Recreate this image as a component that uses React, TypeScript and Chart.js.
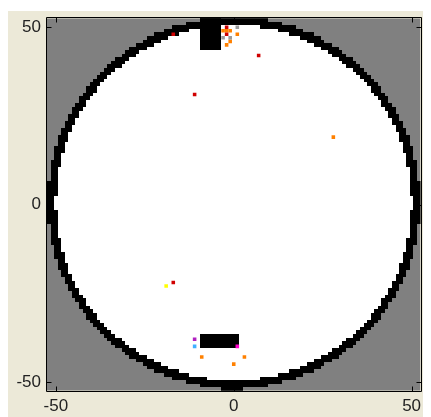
import React, { useEffect, useRef } from "react";
import { Chart, registerables } from "chart.js";

Chart.register(...registerables);

// ---- data ----
const axisMin = -52.5;
const axisMax = 52.5;
const xTickValues = [-50, 0, 50];
const yTickValues = [-50, 0, 50];

const circleCenter = { x: 0, y: 0.5 };
const circleOuterRadius = 52.4;
const circleInnerRadius = 50.05;

const blackBlocks = [
  { x0: -9.5, x1: -3.5, y0: 43.5, y1: 52.5 },
  { x0: -9.5, x1: 1.5, y0: -40.5, y1: -36.5 },
  { x0: -3.5, x1: 2.5, y0: -52.5, y1: -50.5 },
];

const redCells = [
  { x: -2, y: 50 },
  { x: -2, y: 48 },
  { x: -17, y: 48 },
  { x: 7, y: 42 },
  { x: -11, y: 31 },
  { x: -17, y: -22 },
];
const orangeCells = [
  { x: -3, y: 49 },
  { x: -2, y: 49 },
  { x: -1, y: 49 },
  { x: 1, y: 48 },
  { x: -1, y: 46 },
  { x: -2, y: 45 },
  { x: 28, y: 19 },
  { x: -9, y: -43 },
  { x: 3, y: -43 },
  { x: 0, y: -45 },
];
const grayCells = [
  { x: 1, y: 50 },
  { x: -3, y: 47 },
  { x: -1, y: 47 },
];
const yellowCells = [{ x: -19, y: -23 }];
const purpleCells = [{ x: -11, y: -38 }];
const blueCells = [{ x: -11, y: -40 }];
const magentaCells = [{ x: 1, y: -40 }];

const BG = "#ECE9D8";

const fieldPlugin = {
  id: "field",
  beforeDatasetsDraw(chart: any) {
    const { ctx, chartArea, scales } = chart;
    const xs = scales.x;
    const ys = scales.y;
    ctx.save();
    ctx.beginPath();
    ctx.rect(chartArea.left, chartArea.top, chartArea.right - chartArea.left, chartArea.bottom - chartArea.top);
    ctx.clip();
    ctx.fillStyle = "#808080";
    ctx.fillRect(chartArea.left, chartArea.top, chartArea.right - chartArea.left, chartArea.bottom - chartArea.top);
    const lo = Math.ceil(axisMin);
    const hi = Math.floor(axisMax);
    for (let cx = lo; cx <= hi; cx++) {
      for (let cy = lo; cy <= hi; cy++) {
        const d = Math.hypot(cx - circleCenter.x, cy - circleCenter.y);
        if (d > circleOuterRadius) continue;
        ctx.fillStyle = d > circleInnerRadius ? "#000000" : "#ffffff";
        const l = Math.round(xs.getPixelForValue(cx - 0.5));
        const r = Math.round(xs.getPixelForValue(cx + 0.5));
        const t = Math.round(ys.getPixelForValue(cy + 0.5));
        const b = Math.round(ys.getPixelForValue(cy - 0.5));
        ctx.fillRect(l, t, r - l, b - t);
      }
    }
    ctx.fillStyle = "#000000";
    for (const blk of blackBlocks) {
      const l = Math.round(xs.getPixelForValue(blk.x0));
      const r = Math.round(xs.getPixelForValue(blk.x1));
      const t = Math.round(ys.getPixelForValue(blk.y1));
      const b = Math.round(ys.getPixelForValue(blk.y0));
      ctx.fillRect(l, t, r - l, b - t);
    }
    ctx.restore();
  },
  afterDraw(chart: any) {
    const { ctx, chartArea, scales } = chart;
    const xs = scales.x;
    const ys = scales.y;
    const L = Math.round(chartArea.left) - 0.5;
    const R = Math.round(chartArea.right) + 0.5;
    const T = Math.round(chartArea.top) - 0.5;
    const B = Math.round(chartArea.bottom) + 0.5;
    const tl = 5;
    ctx.save();
    ctx.strokeStyle = "#000000";
    ctx.lineWidth = 1;
    ctx.beginPath();
    ctx.rect(L, T, R - L, B - T);
    for (const v of xTickValues) {
      const px = Math.round(xs.getPixelForValue(v)) + 0.5;
      ctx.moveTo(px, B);
      ctx.lineTo(px, B - tl);
      ctx.moveTo(px, T);
      ctx.lineTo(px, T + tl);
    }
    for (const v of yTickValues) {
      const py = Math.round(ys.getPixelForValue(v)) + 0.5;
      ctx.moveTo(L, py);
      ctx.lineTo(L + tl, py);
      ctx.moveTo(R, py);
      ctx.lineTo(R - tl, py);
    }
    ctx.stroke();
    ctx.restore();
  },
};

const cellDataset = (data: { x: number; y: number }[], color: string) => ({
  data,
  backgroundColor: color,
  borderWidth: 0,
  pointStyle: "rect",
  pointRadius: 2.52,
  pointHoverRadius: 2.52,
});

export default function App() {
  const ref = useRef<HTMLCanvasElement | null>(null);
  useEffect(() => {
    if (!ref.current) return;
    const font = { family: "'Liberation Sans', Arial, sans-serif", size: 17 };
    const chart = new Chart(ref.current, {
      type: "scatter",
      data: {
        datasets: [
          cellDataset(grayCells, "#9a9a9a"),
          cellDataset(redCells, "#d00000"),
          cellDataset(orangeCells, "#ff8000"),
          cellDataset(yellowCells, "#ffff00"),
          cellDataset(purpleCells, "#b020c0"),
          cellDataset(blueCells, "#40b0ff"),
          cellDataset(magentaCells, "#ff00cc"),
        ] as any,
      },
      options: {
        animation: false,
        responsive: true,
        maintainAspectRatio: false,
        events: [],
        layout: { padding: { top: 7.3, right: 10.5, left: 0, bottom: 0 } },
        plugins: { legend: { display: false }, tooltip: { enabled: false } },
        scales: {
          x: {
            type: "linear",
            min: axisMin,
            max: axisMax,
            grid: { display: false, drawTicks: false },
            border: { display: false },
            ticks: { font, color: "#222", padding: 5, maxRotation: 0 },
            afterBuildTicks: (s: any) => {
              s.ticks = xTickValues.map((v) => ({ value: v }));
            },
            afterFit: (s: any) => {
              s.height = 26.3;
              s.paddingLeft = 0;
              s.paddingRight = 0;
            },
          },
          y: {
            type: "linear",
            min: axisMin,
            max: axisMax,
            grid: { display: false, drawTicks: false },
            border: { display: false },
            ticks: { font, color: "#222", padding: 6 },
            afterBuildTicks: (s: any) => {
              s.ticks = yTickValues.map((v) => ({ value: v }));
            },
            afterFit: (s: any) => {
              s.width = 39;
              s.paddingTop = 0;
              s.paddingBottom = 0;
            },
          },
        },
      } as any,
      plugins: [fieldPlugin],
    });
    return () => chart.destroy();
  }, []);
  return (
    <div style={{ paddingTop: 3 }}>
      <div style={{ width: 423, height: 406, position: "relative", background: BG }}>
        <canvas ref={ref} />
      </div>
    </div>
  );
}
